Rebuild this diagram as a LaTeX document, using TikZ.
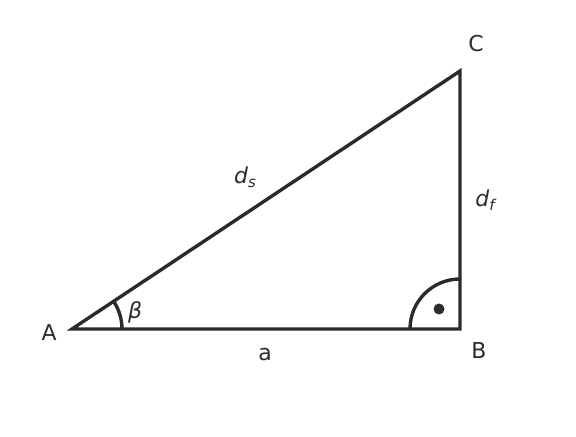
\documentclass[tikz,border=0pt]{standalone}
\usepackage{fontspec}
\setmainfont{DejaVu Sans}
\usetikzlibrary{calc, positioning}

\begin{document}
\begin{tikzpicture}[x=1bp,y=1bp,font=\fontsize{22}{26}\selectfont]
\definecolor{linegray}{HTML}{2B2B2B}
\tikzstyle{side}=[draw=linegray,line width=3.4bp,line join=miter]
\tikzstyle{lbl}=[text=linegray,inner sep=0pt]

\useasboundingbox (0,0) rectangle (576,437);

\coordinate (A) at (72,108);
\coordinate (B) at (460,108);
\coordinate (C) at (460,366);

\path[side] (A) -- (B) -- (C) -- cycle;

% angles
\path[side] ($(A)+(50,0)$) arc (0:33.6:50);
\path[side] ($(B)+(-50,0)$) arc (180:90:50);
\fill[linegray] (439,128) circle (5.5);

\node[lbl] (Alabel) at (49,104) {A};
\node[lbl] (Blabel) at (479,86) {B};
\node[lbl] (Clabel) at (476,393) {C};
\node[lbl] (alabel) at (265,82) {a};
\node[lbl] (dslabel) at (245,260) {\itshape d\raisebox{-0.35ex}{\fontsize{15}{18}\selectfont s}};
\node[lbl] (dflabel) at (485,237) {\itshape d\raisebox{-0.35ex}{\fontsize{15}{18}\selectfont f}};
\node[lbl] (betalabel) at (135,125) {\itshape β};
\end{tikzpicture}
\end{document}
